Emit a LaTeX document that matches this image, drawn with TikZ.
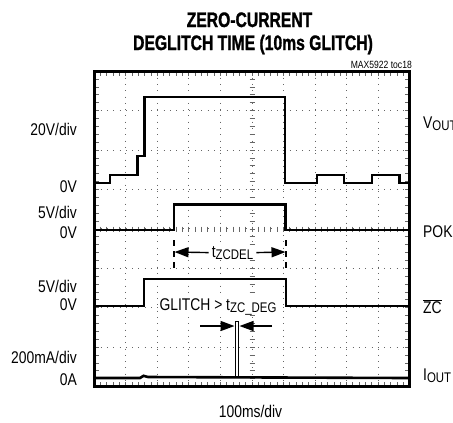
\documentclass[tikz,border=0pt]{standalone}
\usepackage{fontspec}
\setmainfont[FakeStretch=0.82]{Liberation Sans}
\newfontfamily\titlefont[FakeStretch=0.75, FakeBold=1.3]{Liberation Sans Bold}
\usetikzlibrary{arrows.meta, positioning}
% smaller, slightly lowered index text (V_OUT, t_ZCDEL, ...)
\newcommand{\lowsub}[1]{\raisebox{-2bp}{\fontsize{14}{14}\selectfont #1}}

\begin{document}
\begin{tikzpicture}[
    x=1bp, y=-1bp,
    font=\fontsize{17}{17}\selectfont,
    >={Triangle[length=14bp, width=10bp]},
    % --- styles ---
    frame/.style={draw, line width=2.6bp},
    gridline/.style={black!60, line width=1bp, dash pattern=on 1bp off 5.3bp},
    gridtick/.style={black!60, line width=1bp},
    trace/.style={line width=2.6bp, line join=miter},
    glitch/.style={line width=1.5bp},
    marker/.style={line width=1.2bp, dash pattern=on 6bp off 5bp},
    timearrow/.style={->, line width=1.4bp},
    scalelabel/.style={anchor=base east, inner sep=0pt},
    chanlabel/.style={anchor=base west, inner sep=0pt},
    tlabel/.style={anchor=base, inner sep=0pt, fill=white}
]
\useasboundingbox (0,0) rectangle (453,422);

% ==================== 1. title ====================
\node[font=\titlefont\fontsize{21}{21}\selectfont, anchor=base] (title1) at (249.5,27) {ZERO-CURRENT};
\node[font=\titlefont\fontsize{21}{21}\selectfont, anchor=base] (title2) at (253,50) {DEGLITCH TIME (10ms GLITCH)};
\node[font=\fontsize{10.5}{10.5}\selectfont, anchor=base east, inner sep=0pt] (tocid) at (412,68) {MAX5922 toc18};

% ==================== 2. screen grid ====================
\foreach \i in {1,...,9}
    \draw[gridline] ({94.3+31.54*\i},71.3) -- ++(0,315.4);
\foreach \j in {1,...,7}
    \draw[gridline] (94.3,{71.3+39.42*\j}) -- ++(315.4,0);
% ticks on the centre axes and along the edges
\foreach \i in {1,...,49} {
    \draw[gridtick] ({94.3+6.308*\i},226.5) -- ++(0,5);
    \draw[gridtick] ({94.3+6.308*\i},73) -- ++(0,3);
    \draw[gridtick] ({94.3+6.308*\i},385) -- ++(0,-3);
}
\foreach \j in {1,...,39} {
    \draw[gridtick] (249.5,{71.3+7.885*\j}) -- ++(5,0);
    \draw[gridtick] (96,{71.3+7.885*\j}) -- ++(3,0);
    \draw[gridtick] (408,{71.3+7.885*\j}) -- ++(-3,0);
}
\draw[frame] (94.3,71.3) rectangle (409.7,386.7);

% ==================== 3. traces ====================
% VOUT
\draw[trace] (95.6,183) -- (110,183) -- (110,175) -- (137.5,175) -- (137.5,156) -- (144.5,156)
    -- (144.5,97) -- (285,97) -- (285,183) -- (317,183) -- (317,175) -- (344,175)
    -- (344,183) -- (372,183) -- (372,175) -- (399.5,175) -- (399.5,183) -- (408.4,183);
% POK
\draw[trace] (95.6,230) -- (174,230) -- (174,204.5) -- (285.5,204.5) -- (285.5,230) -- (408.4,230);
% ZC
\draw[trace] (95.6,306) -- (144,306) -- (144,279) -- (286,279) -- (286,306) -- (408.4,306);
% IOUT
\draw[trace] (95.6,378) -- (140,378) -- (143.5,375.8) -- (148,377) -- (408.4,378);
\draw[glitch] (235.5,377) -- (235.5,321.5) -- (238.5,321.5) -- (238.5,377);

% ==================== 4. scale and channel labels ====================
\node[scalelabel] (vdiv)   at (77,135) {20V/div};
\node[scalelabel] (vzero)  at (77,192) {0V};
\node[scalelabel] (pdiv)   at (77,218) {5V/div};
\node[scalelabel] (pzero)  at (77,238) {0V};
\node[scalelabel] (zdiv)   at (77,292) {5V/div};
\node[scalelabel] (zzero)  at (77,310) {0V};
\node[scalelabel] (idiv)   at (77,363) {200mA/div};
\node[scalelabel] (izero)  at (77,385) {0A};

\node[chanlabel] (vout) at (423,128) {V\lowsub{OUT}};
\node[chanlabel] (pok)  at (423,237) {POK};
\node[chanlabel] (zc)   at (423,313) {$\overline{\mbox{ZC}}$};
\node[chanlabel] (iout) at (423,380) {I\lowsub{OUT}};

\node[anchor=base, inner sep=0pt] (tdiv) at (250.5,417) {100ms/div};

% ==================== 5. time markers ====================
\coordinate (delL) at (174.5,252);
\coordinate (delR) at (285.5,252);
\draw[marker] (174,240) -- (174,269);
\draw[marker] (286,240) -- (286,269);
\node[tlabel, inner xsep=3bp] (tdel) at (232.5,257) {t\lowsub{ZCDEL}};
\draw[timearrow] (tdel.west) -- (delL);
\draw[timearrow] (tdel.east) -- (delR);

\node[tlabel, inner xsep=1bp] (tdeg) at (218,310) {GLITCH > t\lowsub{ZC\_DEG}};
\coordinate (glL) at (234.5,326);
\coordinate (glR) at (239.5,326);
\coordinate (glLtail) at (200,326);
\coordinate (glRtail) at (272,326);
\draw[timearrow] (glLtail) -- (glL);
\draw[timearrow] (glRtail) -- (glR);

\end{tikzpicture}
\end{document}
